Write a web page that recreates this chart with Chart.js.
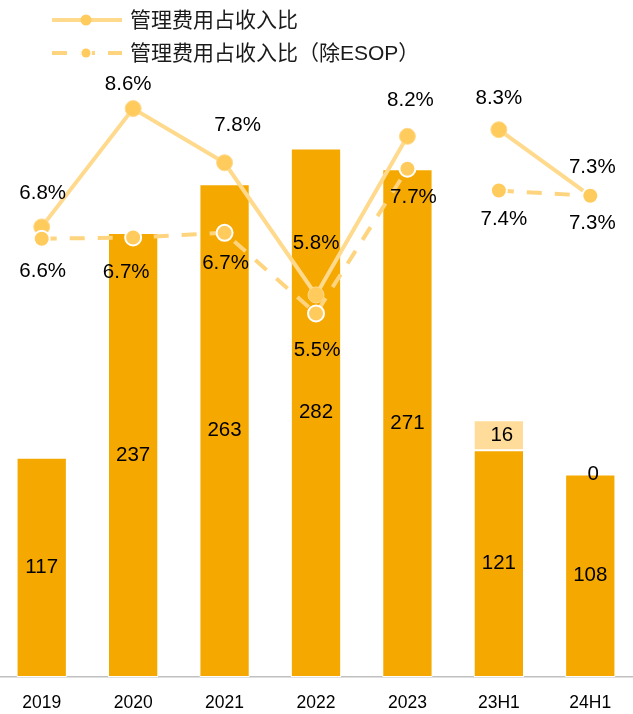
<!DOCTYPE html>
<html>
<head>
<meta charset="utf-8">
<script src="https://cdn.jsdelivr.net/npm/chart.js@4"></script>
<style>
  html, body { margin: 0; padding: 0; background: #fff; overflow: hidden; }
  #wrap { position: relative; width: 633px; height: 714px; overflow: hidden; background: #fff; }
  #c { position: absolute; left: -4px; top: 0; }
</style>
</head>
<body>
<div id="wrap"><canvas id="c" width="640" height="729"></canvas></div>
<script>
// ---- data ----
const categories = ['2019', '2020', '2021', '2022', '2023', '23H1', '24H1'];
const adminExpense = [117, 237, 263, 282, 271, 121, 108];
const esopExpense = [null, null, null, null, null, 16, 0];
const ratioAll = [6.81, 8.60, 7.78, 5.78, 8.18, 8.28, 7.28];
const ratioExEsop = [6.63, 6.65, 6.72, 5.50, 7.69, 7.36, 7.28];
const legendNames = ['管理费用占收入比', '管理费用占收入比（除ESOP）'];

// ---- styles ----
const BAR = '#F5A800';
const BAR_LIGHT = '#FFDC99';
const LINE = '#FFD98C';
const LINE2 = '#FFD47E';
const MARK = '#FFCB5C';
const NUM_FONT = '20.5px "Liberation Sans", Arial, sans-serif';

const pct = v => (Math.round(v * 10) / 10).toFixed(1) + '%';
const gapAfter2023 = ctx => ctx.p0DataIndex === 4 ? 'rgba(0,0,0,0)' : undefined;

// label nudges (dx, dy) relative to each point
const nudgeAll = [[1, -34], [-5, -24], [13, -37], [0, -52], [3, -36], [0, -31], [2, -28]];
const nudgeEx = [[1, 33], [-7, 35], [1, 31], [1, 37], [6, 29], [5, 29], [2, 28]];

const labelPlugin = {
  id: 'valueLabels',
  afterDatasetsDraw(chart) {
    const ctx = chart.ctx;
    ctx.save();
    ctx.font = NUM_FONT;
    ctx.fillStyle = '#000';
    ctx.textAlign = 'center';
    ctx.textBaseline = 'middle';
    chart.data.datasets.forEach((ds, di) => {
      const meta = chart.getDatasetMeta(di);
      meta.data.forEach((el, i) => {
        const v = ds.data[i];
        if (v === null || v === undefined) return;
        if (meta.type === 'bar') {
          const dx = di === 1 ? 3 : 0;
          ctx.fillText(String(v), el.x + dx, (el.y + el.base) / 2);
        } else {
          const n = di === 2 ? nudgeAll[i] : nudgeEx[i];
          ctx.fillText(pct(v), el.x + n[0], el.y + n[1]);
        }
      });
    });
    ctx.restore();
  }
};

const legendPlugin = {
  id: 'customLegend',
  afterDraw(chart) {
    const ctx = chart.ctx;
    const ox = 4; // canvas is shifted 4px left
    ctx.save();
    // item 1: solid line
    let y = 20;
    ctx.strokeStyle = LINE; ctx.lineWidth = 4; ctx.setLineDash([]);
    ctx.beginPath(); ctx.moveTo(52 + ox, y); ctx.lineTo(122 + ox, y); ctx.stroke();
    ctx.fillStyle = MARK;
    ctx.beginPath(); ctx.arc(86 + ox, y, 5.5, 0, Math.PI * 2); ctx.fill();
    // item 2: dashed line
    y = 53;
    ctx.strokeStyle = LINE2; ctx.setLineDash([15, 13]);
    ctx.beginPath(); ctx.moveTo(52 + ox, y); ctx.lineTo(122 + ox, y); ctx.stroke();
    ctx.setLineDash([]);
    ctx.fillStyle = '#fff';
    ctx.beginPath(); ctx.arc(86 + ox, y, 6, 0, Math.PI * 2); ctx.fill();
    ctx.fillStyle = MARK;
    ctx.beginPath(); ctx.arc(86 + ox, y, 4.5, 0, Math.PI * 2); ctx.fill();
    // texts
    ctx.fillStyle = '#1a1a1a';
    ctx.font = '21px "Liberation Sans", "Noto Sans CJK SC", sans-serif';
    ctx.textAlign = 'left'; ctx.textBaseline = 'middle';
    ctx.fillText(legendNames[0], 130 + ox, 21);
    ctx.fillText(legendNames[1], 130 + ox, 54);
    ctx.restore();
  }
};

new Chart(document.getElementById('c'), {
  data: {
    labels: categories,
    datasets: [
      {
        type: 'bar', label: '管理费用', data: adminExpense, yAxisID: 'y',
        backgroundColor: BAR, borderColor: '#fff', borderWidth: 1, borderSkipped: false,
        stack: 's', order: 3, categoryPercentage: 1, barPercentage: 0.55
      },
      {
        type: 'bar', label: 'ESOP', data: esopExpense, yAxisID: 'y',
        backgroundColor: BAR_LIGHT, borderColor: '#fff', borderWidth: 1, borderSkipped: false,
        stack: 's', order: 3, categoryPercentage: 1, barPercentage: 0.55
      },
      {
        type: 'line', label: legendNames[0], data: ratioAll, yAxisID: 'y1',
        borderColor: LINE, borderWidth: 4, tension: 0,
        pointRadius: 8, pointHoverRadius: 8, pointBackgroundColor: MARK,
        pointBorderColor: LINE, pointBorderWidth: 1,
        segment: { borderColor: gapAfter2023 }, order: 2, clip: false
      },
      {
        type: 'line', label: legendNames[1], data: ratioExEsop, yAxisID: 'y1',
        borderColor: LINE2, borderWidth: 4, borderDash: [15, 13], tension: 0,
        pointRadius: 8, pointHoverRadius: 8, pointBackgroundColor: MARK,
        pointBorderColor: '#fff', pointBorderWidth: 2,
        segment: { borderColor: gapAfter2023 }, order: 1, clip: false
      }
    ]
  },
  options: {
    responsive: false,
    animation: false,
    events: [],
    layout: { autoPadding: false, padding: { top: 50, left: 0, right: 0, bottom: 0 } },
    plugins: { legend: { display: false }, tooltip: { enabled: false } },
    scales: {
      x: {
        stacked: true,
        grid: { display: false, drawTicks: false },
        border: { display: true, color: '#C0C0C0', width: 1.5 },
        ticks: {
          color: '#000', padding: 15.5,
          font: { family: '"Liberation Sans", Arial, sans-serif', size: 17.5 }
        }
      },
      y: { display: false, stacked: true, min: 0, max: 334.6 },
      y1: { display: false, stacked: false, min: 0, max: 9.486 }
    }
  },
  plugins: [labelPlugin, legendPlugin]
});
</script>
</body>
</html>
